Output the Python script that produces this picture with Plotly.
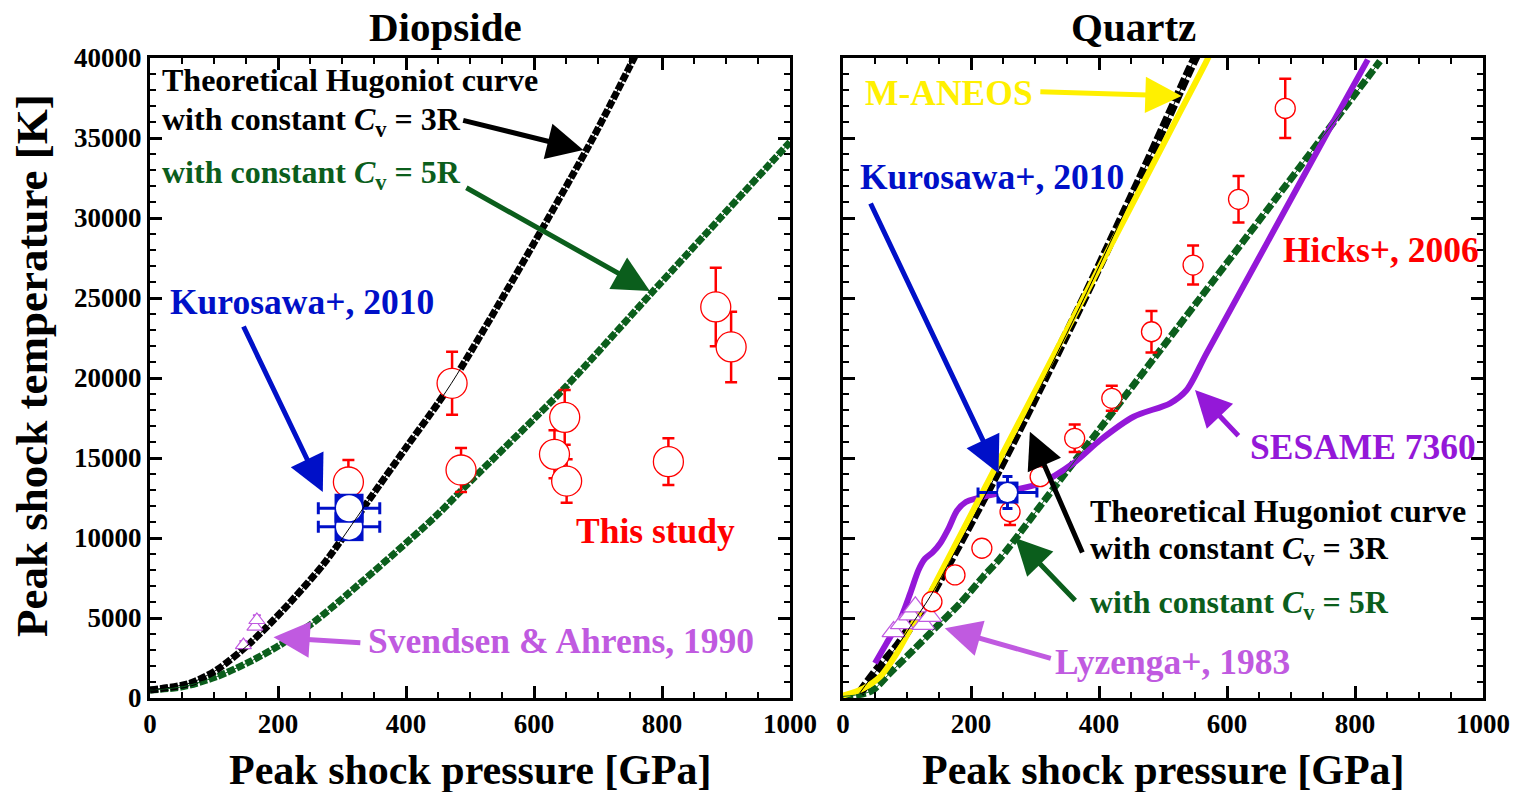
import plotly.graph_objects as go

W, H = 1519, 792

# ---------------- Diopside (left) ----------------
dio_study_p = [310, 472, 486, 632, 648, 651, 810, 884, 908]
dio_study_t = [13500, 19670, 14250, 15230, 17540, 13560, 14770, 24440, 21940]
dio_study_err = [1375, 1970, 1375, 1500, 1710, 1360, 1460, 2450, 2200]

dio_kuro_p = [311, 311]
dio_kuro_t = [10710, 11860]
dio_kuro_perr = [48, 48]

dio_svend_p = [146, 164, 167]
dio_svend_t = [3310, 4460, 4875]
dio_svend_err = [250, 300, 300]

dio_3r_p = [0, 62, 104, 156, 208, 273, 339, 401, 471, 682, 755, 775]
dio_3r_t = [500, 920, 1750, 3420, 5500, 8460, 12200, 15700, 19670, 34250, 39900, 41500]

dio_5r_p = [0, 52, 104, 156, 203, 250, 292, 443, 500, 646, 781, 1000]
dio_5r_t = [500, 710, 1330, 2270, 3310, 4560, 5920, 11230, 13520, 19300, 25200, 34750]

# ---------------- Quartz (right) ----------------
qz_hicks_p = [139, 175, 217, 261, 308, 362, 420, 482, 547, 618, 691]
qz_hicks_t = [6020, 7690, 9360, 11640, 13830, 16230, 18730, 22890, 27060, 31170, 36850]
qz_hicks_err = [0, 0, 0, 830, 0, 860, 780, 1300, 1220, 1450, 1850]

qz_kuro_p = [257]
qz_kuro_t = [12840]
qz_kuro_perr = [46]
qz_kuro_terr = [1000]

qz_lyz_p = [79, 92, 105, 113, 126, 136]
qz_lyz_t = [4150, 4650, 5200, 5700, 4600, 5100]

qz_aneos_p = [0, 32, 58, 84, 110, 136, 162, 235, 308, 370, 448, 521, 568, 575]
qz_aneos_t = [150, 600, 1330, 2790, 4670, 6540, 8540, 14160, 19780, 24550, 30560, 36180, 39800, 40400]

qz_3r_p = [26, 53, 84, 105, 136, 165, 245, 308, 339, 381, 422, 464, 500, 542, 555]
qz_3r_t = [300, 1750, 3200, 4450, 6330, 8400, 14400, 19400, 21900, 25350, 28850, 32450, 35600, 39300, 40400]

qz_5r_p = [0, 30, 47, 73, 110, 146, 183, 219, 245, 329, 422, 558, 714, 839]
qz_5r_t = [100, 250, 500, 1540, 3000, 4450, 5920, 7580, 8700, 13100, 17900, 25000, 33200, 39800]

qz_sesame_p = [50, 68, 89, 105, 118, 128, 140, 152, 165, 178, 192, 209, 256, 308, 360, 402,
               454, 511, 537, 568, 662, 766, 820]
qz_sesame_t = [2170, 3420, 4875, 6540, 8000, 8700, 9100, 9670, 10600, 11700, 12250, 12480,
               12900, 13420, 14670, 16125, 17580, 18420, 19250, 21540, 28400, 36000, 39900]

x_ticks = [0, 200, 400, 600, 800, 1000]
y_ticks = [0, 5000, 10000, 15000, 20000, 25000, 30000, 35000, 40000]

# ---------------- style ----------------
FONT = "Liberation Serif"
RED = "#ff0000"
BLUE = "#0010c8"
GREEN = "#0b5e1c"
BLACK = "#000000"
YELLOW = "#fff000"
PURPLE = "#9418d8"
LPURPLE = "#c05ae0"

fig = go.Figure()


def line(xs, ys, color, width, dash, xa, ya):
    fig.add_trace(go.Scatter(x=xs, y=ys, mode="lines", xaxis=xa, yaxis=ya,
                             line=dict(color=color, width=width, dash=dash,
                                       shape="spline", smoothing=0.8),
                             hoverinfo="skip", showlegend=False))


line(dio_5r_p, dio_5r_t, GREEN, 7, "8px,2px", "x", "y")
line(dio_3r_p, dio_3r_t, BLACK, 7, "8px,2px", "x", "y")

fig.add_trace(go.Scatter(x=dio_svend_p, y=dio_svend_t, mode="markers", xaxis="x", yaxis="y",
                         marker=dict(symbol="triangle-up", size=14, color="white",
                                     line=dict(color=LPURPLE, width=1.2)),
                         error_y=dict(type="data", array=dio_svend_err, symmetric=False,
                                      arrayminus=[0, 0, 0], color=LPURPLE, thickness=2, width=4),
                         showlegend=False, hoverinfo="skip"))

fig.add_trace(go.Scatter(x=dio_study_p, y=dio_study_t, mode="markers", xaxis="x", yaxis="y",
                         marker=dict(symbol="circle", size=30, color="white",
                                     line=dict(color=RED, width=1.3)),
                         error_y=dict(type="data", array=dio_study_err, color=RED,
                                      thickness=2.5, width=6),
                         showlegend=False, hoverinfo="skip"))

for i in range(len(dio_kuro_p)):
    fig.add_trace(go.Scatter(x=[dio_kuro_p[i]], y=[dio_kuro_t[i]], mode="markers",
                             xaxis="x", yaxis="y",
                             marker=dict(symbol="square", size=29, color=BLUE,
                                         line=dict(width=0)),
                             error_x=dict(type="data", array=[dio_kuro_perr[i]], color=BLUE,
                                          thickness=3, width=6),
                             showlegend=False, hoverinfo="skip"))
    fig.add_trace(go.Scatter(x=[dio_kuro_p[i]], y=[dio_kuro_t[i]], mode="markers",
                             xaxis="x", yaxis="y",
                             marker=dict(symbol="circle", size=26, color="white",
                                         line=dict(width=0)),
                             showlegend=False, hoverinfo="skip"))

line(dio_5r_p, dio_5r_t, GREEN, 1, "solid", "x", "y")
line(dio_3r_p, dio_3r_t, BLACK, 1, "solid", "x", "y")

line(qz_5r_p, qz_5r_t, GREEN, 7, "10px,3px", "x2", "y2")
line(qz_3r_p, qz_3r_t, BLACK, 9, "11px,3px", "x2", "y2")
line(qz_sesame_p, qz_sesame_t, PURPLE, 6, "solid", "x2", "y2")
line(qz_aneos_p, qz_aneos_t, YELLOW, 6, "solid", "x2", "y2")

fig.add_trace(go.Scatter(x=qz_lyz_p, y=qz_lyz_t, mode="markers", xaxis="x2", yaxis="y2",
                         marker=dict(symbol="triangle-up", size=20, color="white",
                                     line=dict(color=LPURPLE, width=1.2)),
                         showlegend=False, hoverinfo="skip"))

fig.add_trace(go.Scatter(x=qz_hicks_p, y=qz_hicks_t, mode="markers", xaxis="x2", yaxis="y2",
                         marker=dict(symbol="circle", size=20, color="white",
                                     line=dict(color=RED, width=1.3)),
                         error_y=dict(type="data", array=qz_hicks_err, color=RED,
                                      thickness=2.5, width=6),
                         showlegend=False, hoverinfo="skip"))

fig.add_trace(go.Scatter(x=qz_kuro_p, y=qz_kuro_t, mode="markers", xaxis="x2", yaxis="y2",
                         marker=dict(symbol="square", size=22, color=BLUE, line=dict(width=0)),
                         error_x=dict(type="data", array=qz_kuro_perr, color=BLUE,
                                      thickness=3, width=5),
                         error_y=dict(type="data", array=qz_kuro_terr, color=BLUE,
                                      thickness=3, width=5),
                         showlegend=False, hoverinfo="skip"))
fig.add_trace(go.Scatter(x=qz_kuro_p, y=qz_kuro_t, mode="markers", xaxis="x2", yaxis="y2",
                         marker=dict(symbol="circle", size=19, color="white", line=dict(width=0)),
                         showlegend=False, hoverinfo="skip"))

line(qz_5r_p, qz_5r_t, GREEN, 1, "solid", "x2", "y2")
line(qz_3r_p, qz_3r_t, BLACK, 1, "solid", "x2", "y2")


def px(x):
    return x / W


def py(y):
    return 1 - y / H


ax_common = dict(showgrid=False, zeroline=False, showline=True, linecolor="black",
                 linewidth=3, mirror="allticks", ticks="inside", ticklen=12,
                 tickwidth=2.5, tickcolor="black", automargin=False,
                 tickfont=dict(family=FONT, size=27, color="black", weight="bold"))

xa = dict(ax_common, range=[0, 1000], tickvals=x_ticks, ticktext=[str(v) for v in x_ticks],
          minor=dict(dtick=50, ticklen=6, tickwidth=2, ticks="inside", tickcolor="black"))
ya = dict(ax_common, range=[0, 40000], tickvals=y_ticks, ticktext=[str(v) for v in y_ticks],
          minor=dict(dtick=1000, ticklen=6, tickwidth=2, ticks="inside", tickcolor="black"))

fig.update_layout(
    width=W, height=H, autosize=False,
    margin=dict(l=0, r=0, t=0, b=0, pad=0, autoexpand=False),
    paper_bgcolor="white", plot_bgcolor="white", showlegend=False,
    xaxis=dict(xa, domain=[px(150), px(790)], anchor="y"),
    yaxis=dict(ya, domain=[py(698), py(58)], anchor="x"),
    xaxis2=dict(xa, domain=[px(843), px(1483)], anchor="y2"),
    yaxis2=dict(ya, domain=[py(698), py(58)], anchor="x2", showticklabels=False),
)

ann = []
LAB = 35.5
THEO = 32


def text(s, x, y, color, size=LAB, xanchor="left", angle=0):
    ann.append(dict(text=s, x=px(x), y=py(y), xref="paper", yref="paper",
                    xanchor=xanchor, yanchor="middle", showarrow=False, textangle=angle,
                    font=dict(family=FONT, size=size, color=color, weight="bold")))


def arrow(xref, yref, tail, tip, color):
    ann.append(dict(text="", x=tip[0], y=tip[1], ax=tail[0], ay=tail[1],
                    xref=xref, yref=yref, axref=xref, ayref=yref,
                    showarrow=True, arrowhead=2, arrowsize=1.45, arrowwidth=5,
                    arrowcolor=color, standoff=0, startstandoff=0))


text("Diopside", 445, 27, BLACK, size=41, xanchor="center")
text("Quartz", 1133, 27, BLACK, size=41, xanchor="center")
text("Peak shock pressure [GPa]", 470, 770, BLACK, size=42, xanchor="center")
text("Peak shock pressure [GPa]", 1163, 770, BLACK, size=42, xanchor="center")
ann.append(dict(text="Peak shock temperature [K]", x=px(32), y=py(366), xref="paper",
                yref="paper", xanchor="center", yanchor="middle", showarrow=False,
                textangle=-90, font=dict(family=FONT, size=45, color=BLACK, weight="bold")))

text("Theoretical Hugoniot curve", 160, 80, BLACK, size=THEO)
text("with constant <i>C</i><sub>v</sub> = 3R", 160, 121, BLACK, size=THEO)
text("with constant <i>C</i><sub>v</sub> = 5R", 160, 174, GREEN, size=THEO)
text("Kurosawa+, 2010", 168, 302, BLUE)
text("This study", 574, 531, RED)
text("Svendsen &amp; Ahrens, 1990", 366, 641, LPURPLE)

arrow("x", "y", (487, 36125), (677, 34250), BLACK)
arrow("x", "y", (492, 31940), (781, 25440), GREEN)
arrow("x", "y", (145, 23310), (270, 12875), BLUE)
arrow("x", "y", (331, 3440), (193, 3790), LPURPLE)

text("M-ANEOS", 863, 93, YELLOW)
text("Kurosawa+, 2010", 858, 177, BLUE)
text("Hicks+, 2006", 1281, 250, RED)
text("SESAME 7360", 1248, 447, PURPLE)
text("Theoretical Hugoniot curve", 1088, 511, BLACK, size=THEO)
text("with constant <i>C</i><sub>v</sub> = 3R", 1088, 550, BLACK, size=THEO)
text("with constant <i>C</i><sub>v</sub> = 5R", 1088, 604, GREEN, size=THEO)
text("Lyzenga+, 1983", 1053, 662, LPURPLE)

arrow("x2", "y2", (306, 37900), (529, 37625), YELLOW)
arrow("x2", "y2", (42, 31000), (243, 14050), BLUE)
arrow("x2", "y2", (620, 16300), (550, 19250), PURPLE)
arrow("x2", "y2", (375, 9000), (292, 16640), BLACK)
arrow("x2", "y2", (365, 6000), (269, 10000), GREEN)
arrow("x2", "y2", (327, 2450), (159, 4356), LPURPLE)

fig.update_layout(annotations=ann)

fig.write_html("out.html", config={"displayModeBar": False},
               post_script="document.body.style.margin='0';document.body.style.overflow='hidden';")
